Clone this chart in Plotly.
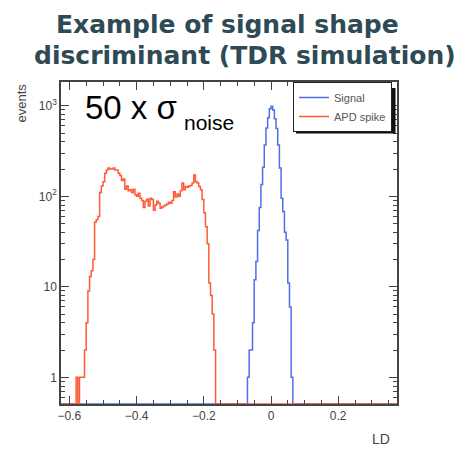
import numpy as np
import plotly.graph_objects as go

# ---------------- data ----------------
bin_width = 0.005
x_min, x_max = -0.625, 0.375

signal_first_edge = -0.07
signal_counts = [1, 2, 2, 4, 12, 19, 42, 75, 135, 210, 370, 570, 740, 930,
                 990, 900, 720, 560, 370, 205, 95, 68, 40, 33, 11, 6, 1]

apd_first_edge = -0.58
apd_counts = [1, 0, 1, 1, 1, 2, 4, 9, 13, 15, 20, 52, 55, 60, 110, 130, 145,
              180, 195, 205, 200, 200, 205, 195, 195, 180, 170, 150, 155, 120,
              130, 115, 118, 110, 120, 104, 100, 108, 95, 90, 75, 88, 93, 78,
              95, 92, 70, 80, 88, 84, 74, 76, 78, 80, 82, 86, 84, 90, 112, 98,
              106, 100, 115, 140, 118, 128, 126, 130, 132, 140, 172, 145, 140,
              128, 118, 92, 66, 46, 30, 11, 8, 5, 2]

x_tick_vals = [-0.6, -0.4, -0.2, 0, 0.2]
x_tick_text = ["\u22120.6", "\u22120.4", "\u22120.2", "0", "0.2"]
y_tick_vals = [1, 10, 100, 1000]
y_tick_text = ["1", "10", "10<sup>2</sup>", "10<sup>3</sup>"]

series_names = ["Signal", "APD spike"]
series_colors = ["#4f6fe8", "#ff5a36"]

y_range = [np.log10(0.507), np.log10(1833)]
y_floor = 10 ** y_range[0]

# ---------------- build histograms ----------------
n_bins = int(round((x_max - x_min) / bin_width))
edges = np.round(np.linspace(x_min, x_max, n_bins + 1), 5)


def full_hist(first_edge, counts):
    h = np.zeros(n_bins)
    i0 = int(round((first_edge - x_min) / bin_width))
    h[i0:i0 + len(counts)] = counts
    h = np.maximum(h, y_floor)
    return np.append(h, h[-1])


fig = go.Figure()
for name, col, fe, cnt in zip(series_names, series_colors,
                              [signal_first_edge, apd_first_edge],
                              [signal_counts, apd_counts]):
    fig.add_trace(go.Scatter(x=edges, y=full_hist(fe, cnt), mode="lines",
                             line=dict(color=col, width=1.5, shape="hv"),
                             name=name))

minor_y = [m * 10 ** d for d in range(-1, 4) for m in range(2, 10)
           if y_range[0] < np.log10(m * 10 ** d) < y_range[1]]

# page body has an 8px margin -> figure drawn at (8, 8)
W, H = 459, 442
PL, PT, PR, PB = 61, 82, 397, 404          # plot frame in screen pixels
pw, ph = PR - PL, PB - PT


def px(xs):
    return (xs - PL) / pw


def py(ys):
    return 1 - (ys - PT) / ph


fig.update_layout(
    width=W, height=H,
    margin=dict(l=PL - 8, r=W - (PR - 8), t=PT - 8, b=H - (PB - 8)),
    paper_bgcolor="white", plot_bgcolor="white",
    font=dict(family="Liberation Sans", color="#333333", size=12),
    showlegend=True,
    legend=dict(x=px(293), y=py(82), xanchor="left", yanchor="top",
                bgcolor="white", bordercolor="#222222", borderwidth=1,
                font=dict(size=11, color="#555555"), tracegroupgap=0,
                itemwidth=30),
    xaxis=dict(range=[x_min, x_max], tickvals=x_tick_vals,
               ticktext=x_tick_text, ticks="inside", ticklen=8,
               tickcolor="#444444", showline=True, linecolor="#444444",
               linewidth=1.5, mirror="ticks", showgrid=False, zeroline=False,
               minor=dict(dtick=0.05, tick0=0, ticks="inside", ticklen=4,
                          tickcolor="#444444", showgrid=False),
               tickfont=dict(size=12, color="#444444")),
    yaxis=dict(type="log", range=y_range, tickvals=y_tick_vals,
               ticktext=y_tick_text, ticks="inside", ticklen=8,
               tickcolor="#444444", showline=True, linecolor="#444444",
               linewidth=1.5, mirror="ticks", showgrid=False, zeroline=False,
               minor=dict(tickvals=minor_y, ticks="inside", ticklen=4,
                          tickcolor="#444444", showgrid=False),
               tickfont=dict(size=12, color="#444444")),
)

# legend drop shadow
fig.add_shape(type="rect", xref="paper", yref="paper",
              x0=px(296), x1=px(395.5), y0=py(133.5), y1=py(88),
              fillcolor="#111111", line=dict(width=0), layer="above")

title_color = "#2d4a55"
fig.add_annotation(text="<b>Example of signal shape</b>", xref="paper",
                   yref="paper", x=px(227), y=py(24), showarrow=False,
                   xanchor="center", yanchor="middle",
                   font=dict(family="DejaVu Sans", size=25, color=title_color))
fig.add_annotation(text="<b>discriminant (TDR simulation)</b>", xref="paper",
                   yref="paper", x=px(245), y=py(56),
                   showarrow=False, xanchor="center", yanchor="middle",
                   font=dict(family="DejaVu Sans", size=25, color=title_color))
fig.add_annotation(text="50 x \u03c3", xref="paper",
                   yref="paper", x=px(83), y=py(107),
                   showarrow=False, xanchor="left", yanchor="middle",
                   font=dict(family="Liberation Sans", size=33, color="black"))
fig.add_annotation(text="noise", xref="paper",
                   yref="paper", x=px(182), y=py(123),
                   showarrow=False, xanchor="left", yanchor="middle",
                   font=dict(family="Liberation Sans", size=21, color="black"))
fig.add_annotation(text="events", xref="paper", yref="paper",
                   x=px(21), y=py(82), textangle=-90, showarrow=False,
                   xanchor="center", yanchor="top",
                   font=dict(size=13, color="#444444"))
fig.add_annotation(text="LD", xref="paper", yref="paper",
                   x=px(392), y=py(439),
                   showarrow=False, xanchor="right", yanchor="middle",
                   font=dict(size=14, color="#444444"))

fig.write_html("out.html")
